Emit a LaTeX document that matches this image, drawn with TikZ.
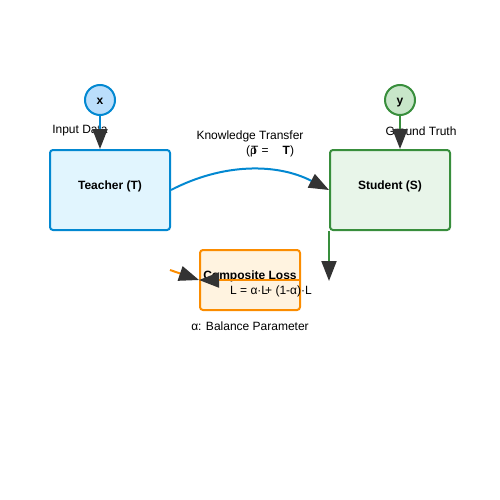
\documentclass[tikz,border=0pt]{standalone}
\usepackage{fontspec}
\setmainfont{Liberation Sans}
\definecolor{teachblue}{HTML}{0288D1}
\definecolor{teachfill}{HTML}{E1F5FE}
\definecolor{xfill}{HTML}{BBDEFB}
\definecolor{studgreen}{HTML}{388E3C}
\definecolor{studfill}{HTML}{E8F5E9}
\definecolor{yfill}{HTML}{C8E6C9}
\definecolor{lossorange}{HTML}{FB8C00}
\definecolor{lossfill}{HTML}{FFF3E0}
\definecolor{tipgray}{HTML}{333333}
\usetikzlibrary{arrows.meta, positioning, calc}

\begin{document}
\begin{tikzpicture}[x=1pt, y=-1pt, font=\fontsize{12}{14}\selectfont,
  box/.style={draw, rounded corners=3pt, line width=2pt, minimum width=120pt, minimum height=80pt},
  var/.style={draw, circle, line width=2pt, minimum size=30pt, inner sep=0pt},
  title/.style={font=\fontsize{12}{14}\selectfont\bfseries},
  flow/.style={line width=2pt, -{Triangle[length=20pt, width=15pt, color=tipgray, fill=tipgray]}}]
  \useasboundingbox (0,0) rectangle (500,500);
  % inputs
  \node[var, draw=teachblue, fill=xfill] (x) at (100,100) {};
  \node[title] (xtext) at (100,101) {x};
  \node[var, draw=studgreen, fill=yfill] (y) at (400,100) {};
  \node[title] (ytext) at (400,102.5) {y};
  % models
  \node[box, draw=teachblue, fill=teachfill] (teacher) at (110,190) {};
  \node[title] (teachertext) at (110,186.5) {Teacher (T)};
  \node[box, draw=studgreen, fill=studfill] (student) at (390,190) {};
  \node[title] (studenttext) at (390,186.5) {Student (S)};
  \node[box, draw=lossorange, fill=lossfill, minimum width=100pt, minimum height=60pt] (loss) at (250,280) {};
  \node[title] (losstitle) at (250,276) {Composite Loss};
  \node (lossform) at (271,291) {L = α·L\kern-3pt+ (1-α)·L};
  % labels
  \node (inlabel) at (80,131) {Input Data};
  \node (gtlabel) at (421,131) {Ground Truth};
  \node (kt) at (250,136) {Knowledge Transfer};
  \node (temp) at (270,151) {(\rlap{ρ}\kern1ptT =\hspace{14pt}\textbf{T})};
  \node (alpha) at (250,326) {α: Balance Parameter};
  % connectors
  \coordinate (soft) at (170,270);
  \coordinate (hard) at (300,280);
  \draw[flow, draw=teachblue] (x.south) -- (x.south |- teacher.north);
  \draw[flow, draw=studgreen] (y.south) -- (y.south |- student.north);
  \draw[flow, draw=teachblue] (teacher.east) .. controls (223,163) and (277,163) .. (student.west);
  \draw[flow, draw=studgreen] (student.south west) -- ++(0,50);
  \draw[flow, draw=lossorange] (soft) -- (loss.west);
  \draw[flow, draw=lossorange] (hard) -- (loss.west);
\end{tikzpicture}
\end{document}
